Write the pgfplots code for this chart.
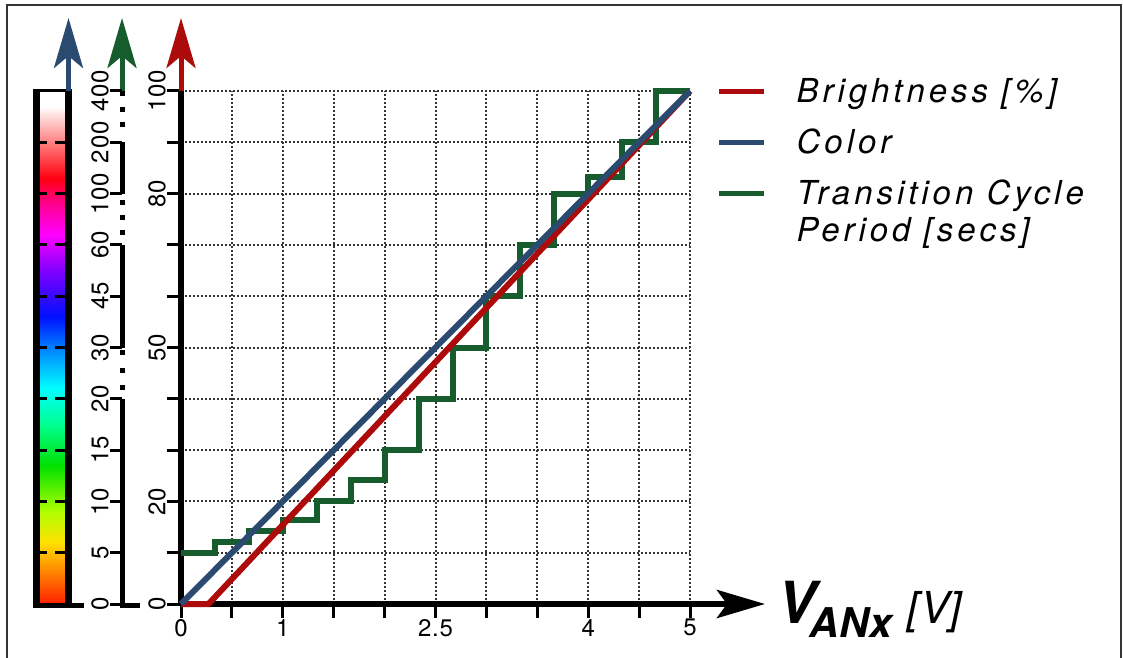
\documentclass[border=0pt]{standalone}
\usepackage{pgfplots}
\pgfplotsset{compat=1.18}
\usetikzlibrary{arrows.meta}
\usepackage{fontspec}
\setmainfont{TeX Gyre Heros}
\newfontfamily\tickfont[LetterSpace=3]{TeX Gyre Heros}
\newfontfamily\legfont[LetterSpace=12]{TeX Gyre Heros}

\definecolor{bright}{HTML}{AD0B0B}
\definecolor{colr}{HTML}{2B4A70}
\definecolor{cyc}{HTML}{165C2C}
% colour bar stops
\definecolor{cbA}{HTML}{FF2000}
\definecolor{cbB}{HTML}{FF7000}
\definecolor{cbC}{HTML}{FFE000}
\definecolor{cbD}{HTML}{B0FF00}
\definecolor{cbE}{HTML}{00E000}
\definecolor{cbF}{HTML}{00FF90}
\definecolor{cbG}{HTML}{00FFFF}
\definecolor{cbH}{HTML}{0090FF}
\definecolor{cbI}{HTML}{0010FF}
\definecolor{cbJ}{HTML}{8000FF}
\definecolor{cbK}{HTML}{FF00FF}
\definecolor{cbL}{HTML}{FF0090}
\definecolor{cbM}{HTML}{FF0010}
\definecolor{cbN}{HTML}{FF8080}
\definecolor{cbO}{HTML}{FFFFFF}
\pgfdeclareverticalshading{rainbow}{100bp}{color(0bp)=(cbA); color(25bp)=(cbA);
  color(27.5bp)=(cbB); color(31bp)=(cbC); color(34bp)=(cbD); color(38.5bp)=(cbE);
  color(42.5bp)=(cbF); color(46bp)=(cbG); color(49.5bp)=(cbH); color(53bp)=(cbI);
  color(57.5bp)=(cbJ); color(61bp)=(cbK); color(64bp)=(cbL); color(66.5bp)=(cbM);
  color(70bp)=(cbN); color(73.5bp)=(cbO); color(75bp)=(cbO); color(100bp)=(cbO)}

\begin{document}
\begin{tikzpicture}
\path[use as bounding box] (0pt,0pt) rectangle (1123pt,657pt);
% frame
\draw[line width=2pt, black!80] (7pt,-5pt) -- (7pt,652pt) -- (1121pt,652pt) -- (1121pt,-5pt);

% colour bar (blue scale)
\shade[shading=rainbow] (40pt,53pt) rectangle (65pt,566pt);
\foreach \v in {10,20,...,90}{
  \draw[line width=3pt, dash pattern=on 9pt off 8pt on 11pt off 0pt] (38pt,{53pt+5.13pt*\v}) -- (65pt,{53pt+5.13pt*\v});
}
\draw[line width=7pt] (36.5pt,49.5pt) -- (36.5pt,568pt);
\draw[line width=3pt] (33pt,566.5pt) -- (72pt,566.5pt);
\draw[line width=5pt] (33pt,52pt) -- (84pt,52pt);
\draw[line width=7pt] (68.5pt,49.5pt) -- (68.5pt,566pt);
\draw[colr, line width=5pt, -{Stealth[length=50pt,width=29pt,inset=12pt]}] (68.5pt,566pt) -- (68.5pt,639pt);

% period scale (green), broken line
\draw[line width=5pt] (119.5pt,52pt) -- (140pt,52pt);
\draw[line width=5pt] (122pt,49.5pt) -- (122pt,258.2pt);
\draw[line width=5pt] (122pt,309.5pt) -- (122pt,412.1pt);
\draw[line width=5pt] (122pt,463.4pt) -- (122pt,514.7pt);
\draw[line width=5pt] (122pt,561pt) -- (122pt,567pt);
\foreach \y in {269.5,286.9,304.4,424.9,439.8,454.2,532.1,547.0}{
  \fill (119.5pt,\y pt-2.5pt) rectangle ++(5pt,5pt);
}
\draw[cyc, line width=5pt, -{Stealth[length=50pt,width=29pt,inset=12pt]}] (122pt,566pt) -- (122pt,639pt);

\begin{axis}[
  scale only axis, width=1pt, height=513pt,
  at={(122pt,53pt)}, anchor=south west,
  xmin=0, xmax=1, ymin=0, ymax=100,
  hide x axis, axis y line=left, y axis line style={draw=none},
  ytick={0,10,20,30,40,50,60,70,80,90,100},
  yticklabels={0,5,10,15,20,30,45,60,100,200,400},
  tick align=outside, major tick length=12pt,
  tick style={line width=3pt, black},
  yticklabel style={rotate=90, anchor=south, inner sep=1pt,
    font=\tickfont\fontsize{24}{26}\selectfont},
]
\addplot[draw=none] coordinates {(0,0)};
\end{axis}

\begin{axis}[
  scale only axis, width=509pt, height=513pt,
  at={(181pt,53pt)}, anchor=south west,
  xmin=0, xmax=5, ymin=0, ymax=100,
  clip=false,
  axis x line=bottom, axis y line=left,
  x axis line style={-, line width=6pt},
  y axis line style={-, line width=5.5pt},
  xtick={0,0.5,1,1.5,2,2.5,3,3.5,4,4.5,5},
  xticklabels={0,,1,,,2.5,,,4,,5},
  ytick={0,10,20,30,40,50,60,70,80,90,100},
  yticklabels={0,,20,,,50,,,80,,100},
  tick align=outside, major tick length=14pt,
  tick style={line width=3pt, black},
  /pgf/number format/assume math mode=true,
  ticklabel style={font=\tickfont\fontsize{24}{26}\selectfont},
  yticklabel style={rotate=90, anchor=south, inner sep=1pt},
  xticklabel style={inner sep=1pt},
  grid=major,
  grid style={line width=2pt, black!80, dash pattern=on 2pt off 2pt},
  legend style={at={(axis description cs:1.052,1.025)}, anchor=north west,
    draw=none, fill=none, inner sep=0pt, row sep={51pt,between origins},
    font=\legfont\itshape\fontsize{33}{37}\selectfont,
    nodes={inner sep=0pt},
    /tikz/every odd column/.append style={column sep=30pt}},
  legend cell align=left,
  legend image code/.code={\draw[#1, line width=5pt] (0pt,0pt) -- (45pt,0pt);},
]
\addlegendimage{bright}
\addlegendentry{Brightness [\%]}
\addlegendimage{colr}
\addlegendentry{Color}
\addlegendimage{cyc}
\addlegendentry{\vtop{\hbox{Transition Cycle}\hbox{Period [secs]}}}

% transition cycle period (step levels)
\addplot[cyc, line width=6pt, const plot, forget plot] coordinates {
  (0,10) (0.333,12.1) (0.667,14.2) (1,16.4) (1.333,20) (1.667,24.2)
  (2,30) (2.333,40) (2.667,50) (3,60) (3.333,70) (3.667,80)
  (4,83.3) (4.333,90) (4.667,100) (5,100)};
% brightness
\addplot[bright, line width=6pt, forget plot] coordinates {(0,0) (0.27,0) (5,100)};
% color
\addplot[colr, line width=6pt, forget plot] coordinates {(0,0) (5,100)};
\end{axis}

% axis arrows
\draw[bright, line width=5pt, -{Stealth[length=50pt,width=29pt,inset=12pt]}] (181pt,566pt) -- (181pt,639pt);
\draw[line width=6pt, -{Stealth[length=48pt,width=28pt,inset=10pt]}] (686pt,53pt) -- (765pt,53pt);
\node[anchor=base west, inner sep=0pt] at (777pt,34pt)
  {{\fontsize{58}{58}\selectfont\bfseries\itshape V}\kern-6pt\raisebox{-14pt}{\fontsize{41}{41}\selectfont\bfseries\itshape ANx}\hspace{16pt}{\fontsize{44}{44}\selectfont\itshape [V]}};
\end{tikzpicture}
\end{document}
